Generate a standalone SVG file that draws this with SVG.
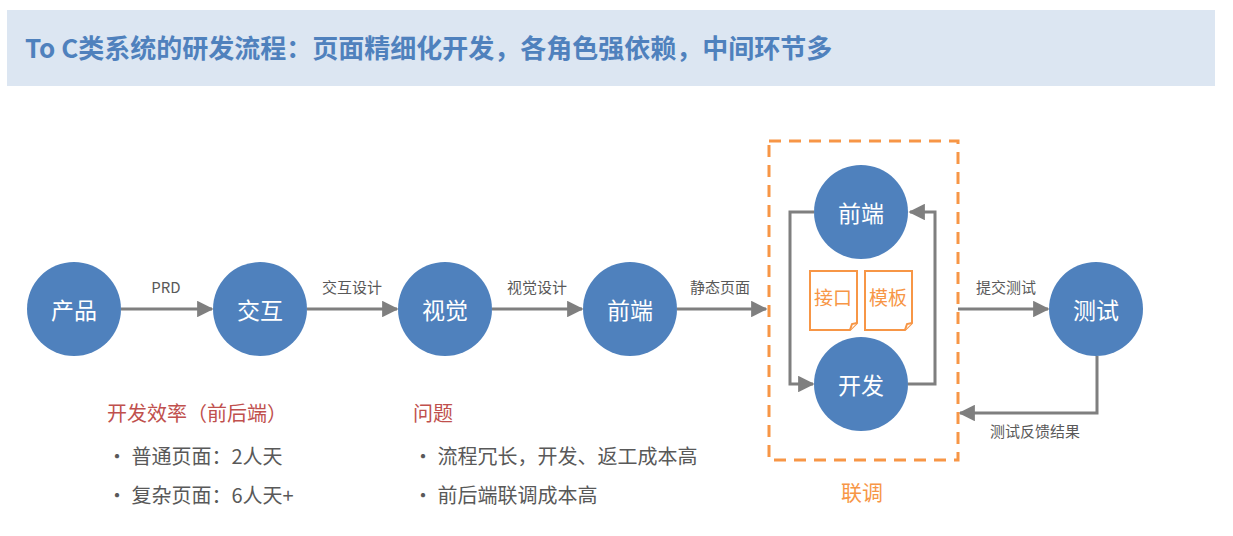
<svg xmlns="http://www.w3.org/2000/svg" width="1233" height="536" viewBox="0 0 1233 536">
<style>
text{font-family:"Noto Sans CJK SC","Liberation Sans",sans-serif}
.c{fill:#4f81bd}
.ct{fill:#fff;font-size:23px;text-anchor:middle;dominant-baseline:central}
.l{stroke:#7f7f7f;stroke-width:3;fill:none}
.lb{fill:#595959;font-size:15px;text-anchor:middle}
.doc{fill:#fff;stroke:#f79646;stroke-width:2}
.dt{fill:#f79646;font-size:19px;text-anchor:middle}
.h{fill:#c0504d;font-size:20px}
.b{fill:#595959;font-size:20px}
</style>
<defs><marker id="a" viewBox="0 0 10 10" refX="9" refY="5" markerWidth="6" markerHeight="6" markerUnits="userSpaceOnUse" orient="auto"><path d="M0,0L10,5L0,10z" fill="#7f7f7f"/></marker>
<marker id="m" viewBox="0 0 10 10" refX="9" refY="5" markerWidth="5.5" markerHeight="5.5" orient="auto"><path d="M0,0L10,5L0,10z" fill="#7f7f7f"/></marker></defs>
<rect x="7" y="10" width="1208" height="76" fill="#dce6f2"/>
<text x="25" y="58" font-size="26" font-weight="bold" fill="#4f81bd">To C类系统的研发流程：页面精细化开发，各角色强依赖，中间环节多</text>
<g id="connectors">
<path class="l" marker-end="url(#m)" d="M121,309H212"/>
<path class="l" marker-end="url(#m)" d="M307,309H397"/>
<path class="l" marker-end="url(#m)" d="M492,309H582"/>
<path class="l" marker-end="url(#m)" d="M677,309H766"/>
<path class="l" marker-end="url(#m)" d="M958,309H1048"/>
<path class="l" marker-end="url(#m)" d="M1097,356V413H960"/>
<path class="l" marker-end="url(#m)" d="M814,212H790V384H813"/>
<path class="l" marker-end="url(#m)" d="M908,384H935V212H910"/>
<text class="lb" x="166" y="293">PRD</text>
<text class="lb" x="352" y="293">交互设计</text>
<text class="lb" x="537" y="293">视觉设计</text>
<text class="lb" x="720" y="293">静态页面</text>
<text class="lb" x="1006" y="293">提交测试</text>
<text class="lb" x="1035" y="437">测试反馈结果</text>
</g>
<g id="n1"><circle class="c" cx="74" cy="309" r="47"/><text class="ct" x="74" y="309">产品</text></g>
<g id="n2"><circle class="c" cx="260" cy="309" r="47"/><text class="ct" x="260" y="309">交互</text></g>
<g id="n3"><circle class="c" cx="445" cy="309" r="47"/><text class="ct" x="445" y="309">视觉</text></g>
<g id="n4"><circle class="c" cx="630" cy="309" r="47"/><text class="ct" x="630" y="309">前端</text></g>
<g id="group"><rect x="769" y="141" width="189" height="319" fill="none" stroke="#f79646" stroke-width="3" stroke-dasharray="12,8"/>
<text x="862" y="500" font-size="21" fill="#f79646" text-anchor="middle">联调</text></g>
<g id="n5"><circle class="c" cx="861" cy="212" r="47"/><text class="ct" x="861" y="212">前端</text></g>
<g id="n6"><circle class="c" cx="861" cy="384" r="47"/><text class="ct" x="861" y="384">开发</text></g>
<g id="n7"><circle class="c" cx="1096" cy="309" r="47"/><text class="ct" x="1096" y="309">测试</text></g>
<g id="d1"><path class="doc" d="M810,271H857V323L850,330H810Z"/><path class="doc" d="M850,330L852,324L857,323"/><text class="dt" x="833" y="305">接口</text></g>
<g id="d2"><path class="doc" d="M865,271H912V323L905,330H865Z"/><path class="doc" d="M905,330L907,324L912,323"/><text class="dt" x="888" y="305">模板</text></g>
<g id="notes">
<text class="h" x="107" y="421">开发效率（前后端）</text>
<text class="b" x="107" y="464">•   普通页面：2人天</text>
<text class="b" x="107" y="503">•   复杂页面：6人天+</text>
<text class="h" x="413" y="421">问题</text>
<text class="b" x="413" y="464">•   流程冗长，开发、返工成本高</text>
<text class="b" x="413" y="503">•   前后端联调成本高</text>
</g>
</svg>
